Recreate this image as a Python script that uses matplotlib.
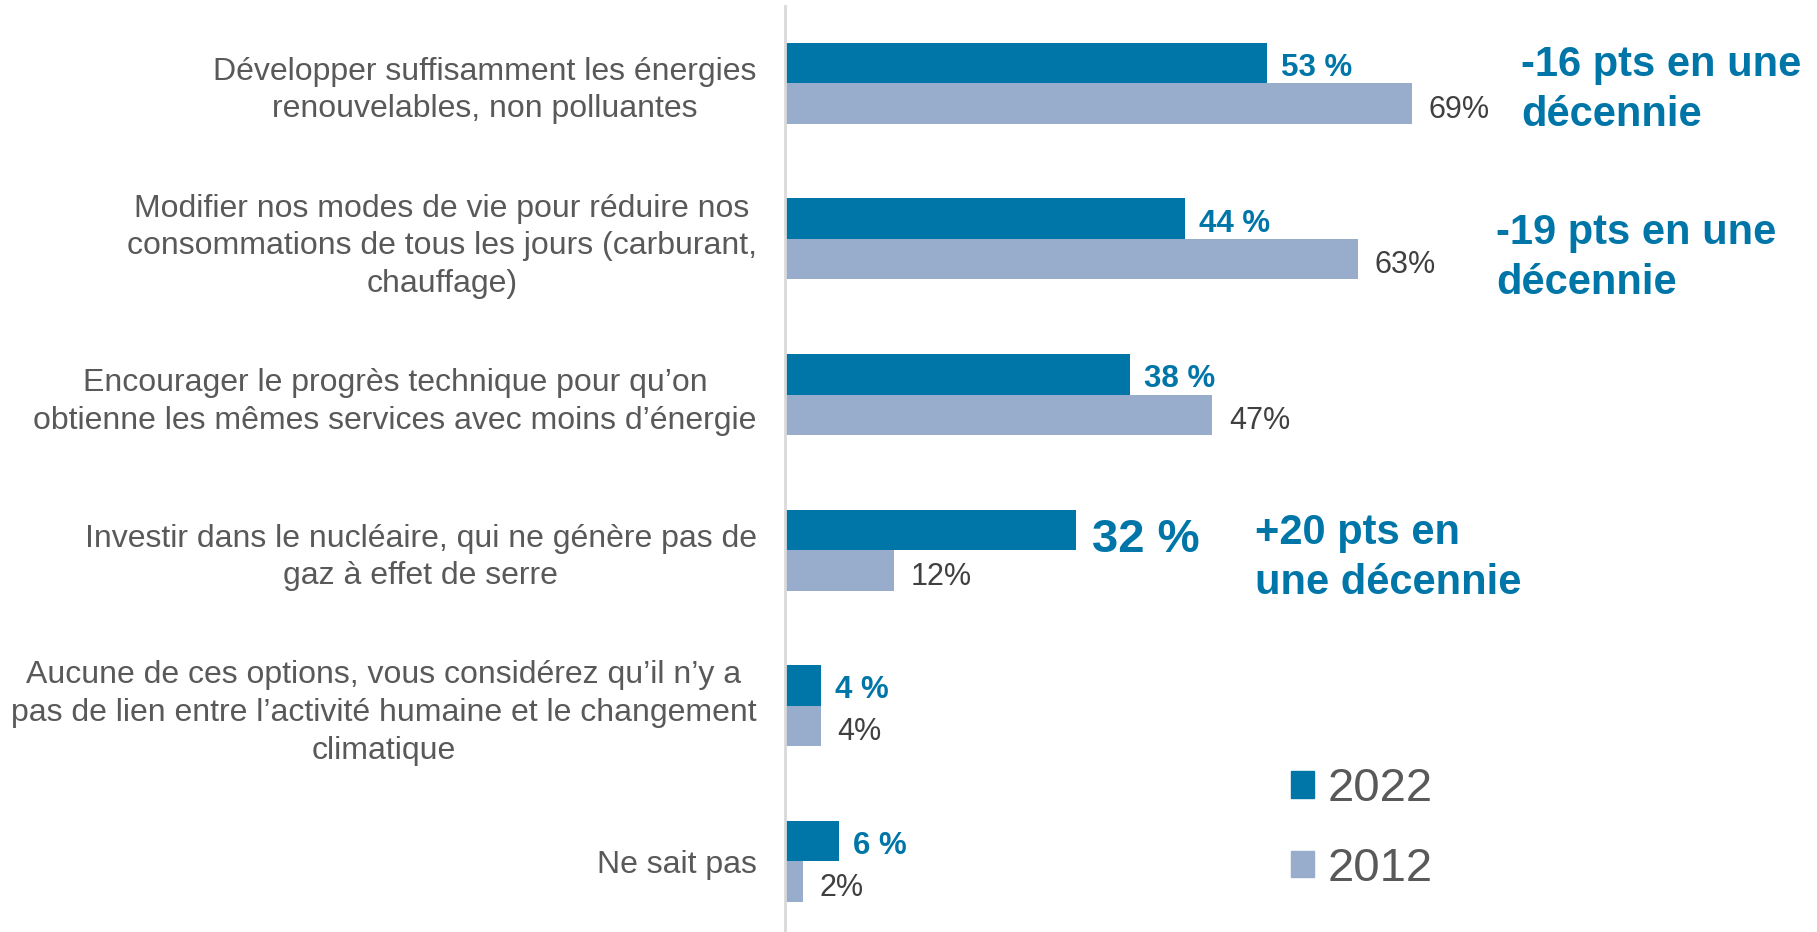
import matplotlib
matplotlib.use('Agg')
import matplotlib.pyplot as plt
from matplotlib.patches import Patch
import numpy as np

plt.rcParams['font.family'] = ['Liberation Sans', 'DejaVu Sans']

categories = [
    "Développer suffisamment les énergies\nrenouvelables, non polluantes",
    "Modifier nos modes de vie pour réduire nos\nconsommations de tous les jours (carburant,\nchauffage)",
    "Encourager le progrès technique pour qu’on\nobtienne les mêmes services avec moins d’énergie",
    "Investir dans le nucléaire, qui ne génère pas de\ngaz à effet de serre",
    "Aucune de ces options, vous considérez qu’il n’y a\npas de lien entre l’activité humaine et le changement\nclimatique",
    "Ne sait pas",
]
v2022 = [53, 44, 38, 32, 4, 6]
v2012 = [69, 63, 47, 12, 4, 2]
series_names = ["2022", "2012"]
notes = ["-16 pts en une\ndécennie", "-19 pts en une\ndécennie", "+20 pts en\nune décennie"]
note_rows = [0, 1, 3]

# layout
note_x = [81.0, 78.2, 51.7]
note_dy = [0.04, 0.12, 0.05]
c22 = '#0076A8'
c12 = '#97ADCB'
grey = '#595959'

fig = plt.figure(figsize=(18.17, 9.32), dpi=100)
ax = fig.add_axes([0.4318, 0.0, 0.5682, 0.994])

y = np.arange(len(categories))
h = 0.26
ax.barh(y - h / 2, v2022, height=h, color=c22)
ax.barh(y + h / 2, v2012, height=h, color=c12)

for i in range(len(categories)):
    big = (i == 3)
    ax.annotate('{} %'.format(v2022[i]), (v2022[i], y[i] - h / 2),
                xytext=(10 if not big else 12, -1 if not big else -4),
                textcoords='offset points',
                va='center_baseline', ha='left', color=c22, fontweight='bold',
                fontsize=34 if big else 22.5)
    ax.annotate('{}%'.format(v2012[i]), (v2012[i], y[i] + h / 2),
                xytext=(12, -2), textcoords='offset points',
                va='center_baseline', ha='left', color='#404040', fontsize=22)

for txt, r, nx, dy in zip(notes, note_rows, note_x, note_dy):
    ax.text(nx, y[r] + dy, txt, color=c22, fontsize=30, fontweight='bold',
            ha='left', va='center', linespacing=1.32)

ax.set_yticks(y)
ax.set_yticklabels(categories, fontsize=23, color=grey, multialignment='center',
                   linespacing=1.33)
ax.tick_params(axis='y', length=0, pad=20)
ax.set_ylim(5.455, -0.5)
ax.set_xlim(0, 113.5)
ax.set_xticks([])
for s in ['top', 'right', 'bottom']:
    ax.spines[s].set_visible(False)
ax.spines['left'].set_color('#D9D9D9')
ax.spines['left'].set_linewidth(2)

handles = [Patch(color=c22), Patch(color=c12)]
leg = ax.legend(handles, series_names, frameon=False, fontsize=34,
                handlelength=0.49, handleheight=0.49, handletextpad=0.3,
                labelspacing=0.75, loc='center left',
                bbox_to_anchor=(0.449, 0.111))
for t in leg.get_texts():
    t.set_color(grey)

fig.savefig('out.png', dpi=100)
